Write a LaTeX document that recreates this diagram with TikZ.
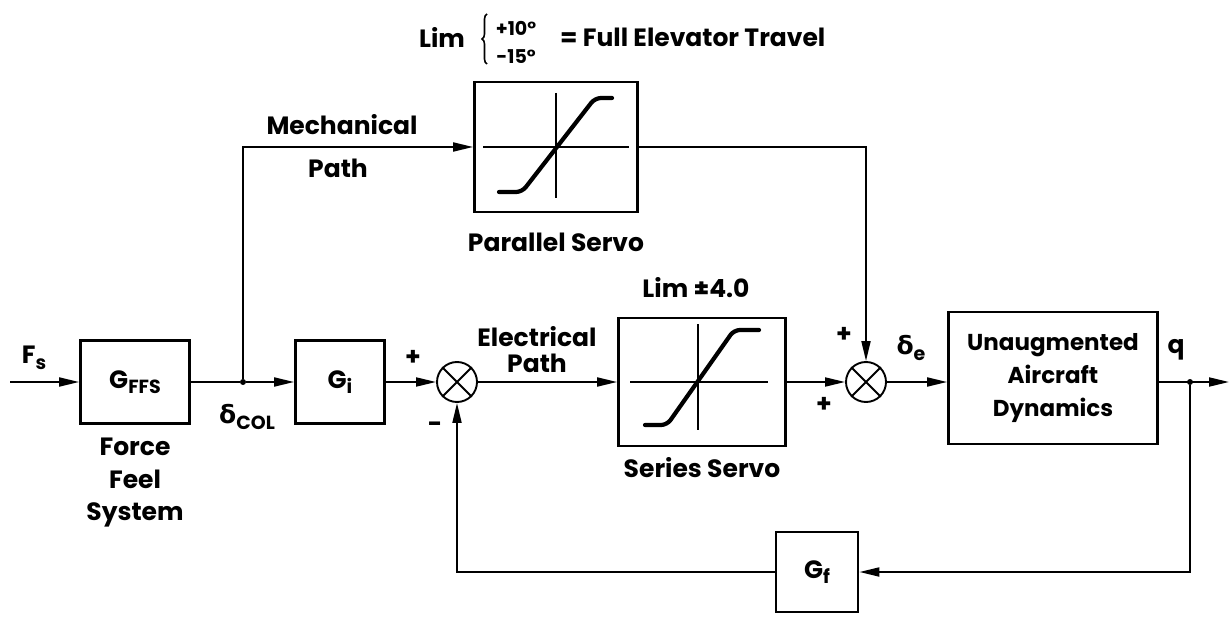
\documentclass[tikz,border=0pt]{standalone}
\usepackage{fontspec}
\setmainfont{Poppins}
\newfontfamily\grk{DejaVu Sans}
\usetikzlibrary{arrows.meta,decorations.pathreplacing}
\newcommand\sbx[1]{\raisebox{-0.4ex}{\fontsize{19}{19}\selectfont #1}}
\tikzset{
 every node/.style={font=\fontsize{25}{30}\selectfont\bfseries, inner sep=0pt},
 blk/.style={draw, line width=2.8pt},
 sumj/.style={draw, circle, line width=1.9pt, minimum size=40pt},
 conn/.style={line width=1.9pt},
 arr/.style={conn, -{Triangle[length=20pt,width=9pt]}},
 axisl/.style={line width=1.5pt},
 curv/.style={line width=4.2pt, rounded corners=6pt, line cap=round},
 sm/.style={font=\fontsize{19}{20}\selectfont\bfseries},
 dotj/.style={circle, fill, minimum size=6pt}
}
\begin{document}
\begin{tikzpicture}[x=1pt,y=-1pt]
\useasboundingbox (0,0) rectangle (1231,620);
% blocks
\node[blk, minimum width=109pt, minimum height=83pt] (ffs) at (135,382) {G\sbx{FFS}};
\node[blk, minimum width=89pt, minimum height=83pt] (gi) at (340,382) {G\sbx{i}};
\node[sumj] (s1) at (457,382) {};
\node[blk, minimum width=167pt, minimum height=128pt] (ser) at (702,382) {};
\node[sumj] (s2) at (866,382) {};
\node[blk, minimum width=209pt, minimum height=132pt, align=center, font=\fontsize{23}{33}\selectfont\bfseries] (un) at (1053,378) {Unaugmented\\Aircraft\\Dynamics};
\node[blk, minimum width=82pt, minimum height=80pt] (gf) at (817,572) {G\sbx{f}};
\node[blk, minimum width=163pt, minimum height=130pt] (par) at (556,147) {};
% sum crosses
\draw[conn] (s1.45)--(s1.225) (s1.135)--(s1.315);
\draw[conn] (s2.45)--(s2.225) (s2.135)--(s2.315);
% junctions
\coordinate (fsin) at (10,382);
\node[dotj] (dj) at (243,382) {};
\node[dotj] (qj) at (1190,382) {};
\coordinate (qend) at (1229,382);
% connectors
\draw[arr] (fsin) -- (ffs.west);
\draw[conn] (ffs.east) -- (dj);
\draw[arr] (dj) -- (gi.west);
\draw[arr] (gi.east) -- (s1.west);
\draw[arr] (s1.east) -- (ser.west);
\draw[arr] (ser.east) -- (s2.west);
\draw[arr] (s2.east) -- (un.west |- s2.east);
\draw[arr] (un.east |- qj) -- (qend);
\draw[arr] (dj) |- (par.west);
\draw[arr] (par.east) -| (s2.north);
\draw[arr] (qj) |- (gf.east);
\draw[arr] (gf.west) -| (s1.south);
% parallel servo characteristic
\draw[axisl] (483,147) -- (629,147) (556,93) -- (556,198);
\draw[curv] (499,192) -- (522,192) -- (595,98) -- (612,98);
% series servo characteristic
\draw[axisl] (630,382) -- (768,382) (698,324) -- (698,430);
\draw[curv] (645,425) -- (667,425) -- (734,330) -- (759,330);
% labels
\node (fs) at (34,358) {F\sbx{s}};
\node (dcol) at (247,417) {{\grk\bfseries δ}\sbx{COL}};
\node[align=center, font=\fontsize{25}{32.5}\selectfont\bfseries] (ffsl) at (135,483) {Force\\Feel\\System};
\node (pl1) at (413,358) {+};
\node (mi1) at (435,427) {-};
\node (el1) at (537,337) {Electrical};
\node (el2) at (537,363) {Path};
\node (me1) at (342,125) {Mechanical};
\node (me2) at (338,168) {Path};
\node (parl) at (556,242) {Parallel Servo};
\node (lim4) at (696,288) {Lim ±4.0};
\node (serl) at (702,468) {Series Servo};
\node (pl2) at (844,335) {+};
\node (pl3) at (824,405) {+};
\node (de) at (911,348) {{\grk\bfseries δ}\sbx{e}};
\node (ql) at (1176,350) {q};
% top label
\node (lim) at (442,37) {Lim};
\draw[line width=1.6pt, decoration={brace, amplitude=5pt}, decorate] (487,64) -- (487,14);
\node[sm] (p10) at (516,28) {+10°};
\node[sm] (m15) at (516,57) {-15°};
\node[anchor=west] (full) at (560,37) {= Full Elevator Travel};
\end{tikzpicture}
\end{document}
